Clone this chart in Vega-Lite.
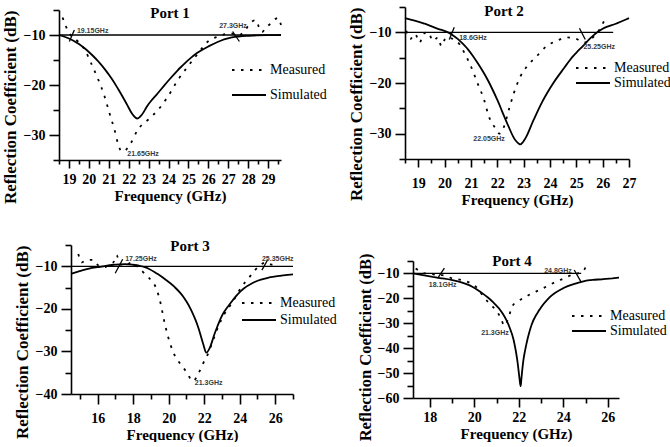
{
  "$schema": "https://vega.github.io/schema/vega-lite/v6.json",
  "background": "white",
  "padding": {"left": 1, "top": 4, "right": 0, "bottom": 0},
  "columns": 2,
  "bounds": "flush",
  "spacing": {"row": 85, "column": 112},
  "resolve": {
    "scale": {"x": "independent", "y": "independent", "strokeDash": "independent"},
    "axis": {"x": "independent", "y": "independent"},
    "legend": {"strokeDash": "independent"}
  },
  "datasets": {
    "curves": [
      {"port": 1, "s": "Simulated", "f": 18.5, "db": -10.0},
      {"port": 1, "s": "Simulated", "f": 19.0, "db": -10.7},
      {"port": 1, "s": "Simulated", "f": 19.5, "db": -11.8},
      {"port": 1, "s": "Simulated", "f": 20.0, "db": -13.4},
      {"port": 1, "s": "Simulated", "f": 20.5, "db": -15.4},
      {"port": 1, "s": "Simulated", "f": 21.0, "db": -17.9},
      {"port": 1, "s": "Simulated", "f": 21.5, "db": -21.0},
      {"port": 1, "s": "Simulated", "f": 21.9, "db": -23.8},
      {"port": 1, "s": "Simulated", "f": 22.2, "db": -25.9},
      {"port": 1, "s": "Simulated", "f": 22.43, "db": -26.7},
      {"port": 1, "s": "Simulated", "f": 22.65, "db": -26.0},
      {"port": 1, "s": "Simulated", "f": 22.95, "db": -24.1},
      {"port": 1, "s": "Simulated", "f": 23.45, "db": -21.7},
      {"port": 1, "s": "Simulated", "f": 24.0, "db": -19.1},
      {"port": 1, "s": "Simulated", "f": 24.6, "db": -16.5},
      {"port": 1, "s": "Simulated", "f": 25.3, "db": -14.0},
      {"port": 1, "s": "Simulated", "f": 26.0, "db": -12.3},
      {"port": 1, "s": "Simulated", "f": 26.65, "db": -11.1},
      {"port": 1, "s": "Simulated", "f": 27.5, "db": -10.3},
      {"port": 1, "s": "Simulated", "f": 28.3, "db": -10.1},
      {"port": 1, "s": "Simulated", "f": 29.65, "db": -10.0},
      {"port": 1, "s": "Measured", "f": 18.68, "db": -6.5},
      {"port": 1, "s": "Measured", "f": 18.85, "db": -8.3},
      {"port": 1, "s": "Measured", "f": 19.0, "db": -9.6},
      {"port": 1, "s": "Measured", "f": 19.2, "db": -10.4},
      {"port": 1, "s": "Measured", "f": 19.45, "db": -11.3},
      {"port": 1, "s": "Measured", "f": 19.8, "db": -13.0},
      {"port": 1, "s": "Measured", "f": 20.12, "db": -15.7},
      {"port": 1, "s": "Measured", "f": 20.45, "db": -18.7},
      {"port": 1, "s": "Measured", "f": 20.79, "db": -22.3},
      {"port": 1, "s": "Measured", "f": 21.04, "db": -25.7},
      {"port": 1, "s": "Measured", "f": 21.29, "db": -29.0},
      {"port": 1, "s": "Measured", "f": 21.46, "db": -31.7},
      {"port": 1, "s": "Measured", "f": 21.65, "db": -33.3},
      {"port": 1, "s": "Measured", "f": 21.85, "db": -33.0},
      {"port": 1, "s": "Measured", "f": 22.1, "db": -31.7},
      {"port": 1, "s": "Measured", "f": 22.45, "db": -29.0},
      {"port": 1, "s": "Measured", "f": 22.96, "db": -27.0},
      {"port": 1, "s": "Measured", "f": 23.47, "db": -25.0},
      {"port": 1, "s": "Measured", "f": 23.97, "db": -22.3},
      {"port": 1, "s": "Measured", "f": 24.47, "db": -19.0},
      {"port": 1, "s": "Measured", "f": 24.97, "db": -16.3},
      {"port": 1, "s": "Measured", "f": 25.48, "db": -13.7},
      {"port": 1, "s": "Measured", "f": 25.98, "db": -11.3},
      {"port": 1, "s": "Measured", "f": 26.48, "db": -10.3},
      {"port": 1, "s": "Measured", "f": 27.15, "db": -9.7},
      {"port": 1, "s": "Measured", "f": 27.5, "db": -10.1},
      {"port": 1, "s": "Measured", "f": 27.8, "db": -9.3},
      {"port": 1, "s": "Measured", "f": 28.0, "db": -8.2},
      {"port": 1, "s": "Measured", "f": 28.2, "db": -7.3},
      {"port": 1, "s": "Measured", "f": 28.4, "db": -7.0},
      {"port": 1, "s": "Measured", "f": 28.55, "db": -8.5},
      {"port": 1, "s": "Measured", "f": 28.7, "db": -9.4},
      {"port": 1, "s": "Measured", "f": 28.9, "db": -8.5},
      {"port": 1, "s": "Measured", "f": 29.1, "db": -7.8},
      {"port": 1, "s": "Measured", "f": 29.3, "db": -7.0},
      {"port": 1, "s": "Measured", "f": 29.5, "db": -6.6},
      {"port": 1, "s": "Measured", "f": 29.65, "db": -8.0},

      {"port": 2, "s": "Simulated", "f": 18.5, "db": -7.2},
      {"port": 2, "s": "Simulated", "f": 19.25, "db": -8.3},
      {"port": 2, "s": "Simulated", "f": 19.75, "db": -9.3},
      {"port": 2, "s": "Simulated", "f": 20.13, "db": -10.0},
      {"port": 2, "s": "Simulated", "f": 20.5, "db": -11.3},
      {"port": 2, "s": "Simulated", "f": 20.88, "db": -13.3},
      {"port": 2, "s": "Simulated", "f": 21.25, "db": -16.0},
      {"port": 2, "s": "Simulated", "f": 21.63, "db": -19.3},
      {"port": 2, "s": "Simulated", "f": 22.0, "db": -23.3},
      {"port": 2, "s": "Simulated", "f": 22.38, "db": -28.0},
      {"port": 2, "s": "Simulated", "f": 22.69, "db": -31.3},
      {"port": 2, "s": "Simulated", "f": 22.88, "db": -32.1},
      {"port": 2, "s": "Simulated", "f": 23.06, "db": -31.0},
      {"port": 2, "s": "Simulated", "f": 23.38, "db": -27.3},
      {"port": 2, "s": "Simulated", "f": 23.75, "db": -23.3},
      {"port": 2, "s": "Simulated", "f": 24.13, "db": -20.0},
      {"port": 2, "s": "Simulated", "f": 24.5, "db": -17.3},
      {"port": 2, "s": "Simulated", "f": 24.88, "db": -14.7},
      {"port": 2, "s": "Simulated", "f": 25.25, "db": -12.7},
      {"port": 2, "s": "Simulated", "f": 25.63, "db": -10.7},
      {"port": 2, "s": "Simulated", "f": 26.0, "db": -9.3},
      {"port": 2, "s": "Simulated", "f": 26.5, "db": -8.3},
      {"port": 2, "s": "Simulated", "f": 27.0, "db": -7.2},
      {"port": 2, "s": "Measured", "f": 18.55, "db": -9.7},
      {"port": 2, "s": "Measured", "f": 18.7, "db": -11.3},
      {"port": 2, "s": "Measured", "f": 18.88, "db": -10.3},
      {"port": 2, "s": "Measured", "f": 19.06, "db": -12.0},
      {"port": 2, "s": "Measured", "f": 19.19, "db": -10.3},
      {"port": 2, "s": "Measured", "f": 19.38, "db": -10.0},
      {"port": 2, "s": "Measured", "f": 19.56, "db": -11.7},
      {"port": 2, "s": "Measured", "f": 19.75, "db": -11.0},
      {"port": 2, "s": "Measured", "f": 19.88, "db": -12.7},
      {"port": 2, "s": "Measured", "f": 20.06, "db": -11.0},
      {"port": 2, "s": "Measured", "f": 20.31, "db": -11.3},
      {"port": 2, "s": "Measured", "f": 20.56, "db": -12.3},
      {"port": 2, "s": "Measured", "f": 20.75, "db": -14.0},
      {"port": 2, "s": "Measured", "f": 21.0, "db": -16.7},
      {"port": 2, "s": "Measured", "f": 21.25, "db": -20.0},
      {"port": 2, "s": "Measured", "f": 21.5, "db": -23.3},
      {"port": 2, "s": "Measured", "f": 21.69, "db": -26.7},
      {"port": 2, "s": "Measured", "f": 21.94, "db": -29.0},
      {"port": 2, "s": "Measured", "f": 22.08, "db": -30.0},
      {"port": 2, "s": "Measured", "f": 22.25, "db": -28.7},
      {"port": 2, "s": "Measured", "f": 22.44, "db": -25.3},
      {"port": 2, "s": "Measured", "f": 22.63, "db": -22.0},
      {"port": 2, "s": "Measured", "f": 22.88, "db": -18.7},
      {"port": 2, "s": "Measured", "f": 23.13, "db": -16.7},
      {"port": 2, "s": "Measured", "f": 23.5, "db": -14.7},
      {"port": 2, "s": "Measured", "f": 23.88, "db": -12.7},
      {"port": 2, "s": "Measured", "f": 24.25, "db": -11.7},
      {"port": 2, "s": "Measured", "f": 24.63, "db": -11.0},
      {"port": 2, "s": "Measured", "f": 25.0, "db": -11.3},
      {"port": 2, "s": "Measured", "f": 25.31, "db": -12.0},
      {"port": 2, "s": "Measured", "f": 25.56, "db": -11.3},
      {"port": 2, "s": "Measured", "f": 25.81, "db": -10.0},
      {"port": 2, "s": "Measured", "f": 26.06, "db": -7.7},

      {"port": 3, "s": "Simulated", "f": 14.5, "db": -11.8},
      {"port": 3, "s": "Simulated", "f": 15.1, "db": -11.0},
      {"port": 3, "s": "Simulated", "f": 15.66, "db": -10.4},
      {"port": 3, "s": "Simulated", "f": 16.22, "db": -10.1},
      {"port": 3, "s": "Simulated", "f": 16.79, "db": -9.7},
      {"port": 3, "s": "Simulated", "f": 17.54, "db": -9.5},
      {"port": 3, "s": "Simulated", "f": 18.1, "db": -9.7},
      {"port": 3, "s": "Simulated", "f": 18.66, "db": -10.2},
      {"port": 3, "s": "Simulated", "f": 19.22, "db": -11.4},
      {"port": 3, "s": "Simulated", "f": 19.78, "db": -13.0},
      {"port": 3, "s": "Simulated", "f": 20.34, "db": -14.9},
      {"port": 3, "s": "Simulated", "f": 20.9, "db": -17.6},
      {"port": 3, "s": "Simulated", "f": 21.28, "db": -20.4},
      {"port": 3, "s": "Simulated", "f": 21.66, "db": -24.3},
      {"port": 3, "s": "Simulated", "f": 21.94, "db": -28.2},
      {"port": 3, "s": "Simulated", "f": 22.12, "db": -30.3},
      {"port": 3, "s": "Simulated", "f": 22.3, "db": -29.3},
      {"port": 3, "s": "Simulated", "f": 22.59, "db": -25.8},
      {"port": 3, "s": "Simulated", "f": 22.97, "db": -21.9},
      {"port": 3, "s": "Simulated", "f": 23.53, "db": -18.4},
      {"port": 3, "s": "Simulated", "f": 24.09, "db": -15.7},
      {"port": 3, "s": "Simulated", "f": 24.84, "db": -13.7},
      {"port": 3, "s": "Simulated", "f": 25.59, "db": -12.7},
      {"port": 3, "s": "Simulated", "f": 26.34, "db": -12.2},
      {"port": 3, "s": "Simulated", "f": 27.0, "db": -11.9},
      {"port": 3, "s": "Measured", "f": 14.91, "db": -7.1},
      {"port": 3, "s": "Measured", "f": 15.1, "db": -9.1},
      {"port": 3, "s": "Measured", "f": 15.3, "db": -8.7},
      {"port": 3, "s": "Measured", "f": 15.48, "db": -8.5},
      {"port": 3, "s": "Measured", "f": 15.76, "db": -8.5},
      {"port": 3, "s": "Measured", "f": 16.04, "db": -9.8},
      {"port": 3, "s": "Measured", "f": 16.41, "db": -10.2},
      {"port": 3, "s": "Measured", "f": 16.69, "db": -9.3},
      {"port": 3, "s": "Measured", "f": 16.88, "db": -9.1},
      {"port": 3, "s": "Measured", "f": 17.07, "db": -7.4},
      {"port": 3, "s": "Measured", "f": 17.25, "db": -9.5},
      {"port": 3, "s": "Measured", "f": 17.54, "db": -9.8},
      {"port": 3, "s": "Measured", "f": 17.91, "db": -9.1},
      {"port": 3, "s": "Measured", "f": 18.28, "db": -10.2},
      {"port": 3, "s": "Measured", "f": 18.66, "db": -11.8},
      {"port": 3, "s": "Measured", "f": 19.03, "db": -13.4},
      {"port": 3, "s": "Measured", "f": 19.31, "db": -15.3},
      {"port": 3, "s": "Measured", "f": 19.55, "db": -18.8},
      {"port": 3, "s": "Measured", "f": 19.74, "db": -22.7},
      {"port": 3, "s": "Measured", "f": 19.97, "db": -26.6},
      {"port": 3, "s": "Measured", "f": 20.25, "db": -30.1},
      {"port": 3, "s": "Measured", "f": 20.63, "db": -32.8},
      {"port": 3, "s": "Measured", "f": 21.0, "db": -34.8},
      {"port": 3, "s": "Measured", "f": 21.37, "db": -37.0},
      {"port": 3, "s": "Measured", "f": 21.66, "db": -35.3},
      {"port": 3, "s": "Measured", "f": 21.94, "db": -32.8},
      {"port": 3, "s": "Measured", "f": 22.22, "db": -30.5},
      {"port": 3, "s": "Measured", "f": 22.5, "db": -27.4},
      {"port": 3, "s": "Measured", "f": 22.78, "db": -24.3},
      {"port": 3, "s": "Measured", "f": 23.15, "db": -21.1},
      {"port": 3, "s": "Measured", "f": 23.53, "db": -18.8},
      {"port": 3, "s": "Measured", "f": 23.81, "db": -16.9},
      {"port": 3, "s": "Measured", "f": 24.09, "db": -14.9},
      {"port": 3, "s": "Measured", "f": 24.46, "db": -13.0},
      {"port": 3, "s": "Measured", "f": 24.84, "db": -11.0},
      {"port": 3, "s": "Measured", "f": 25.12, "db": -9.8},
      {"port": 3, "s": "Measured", "f": 25.49, "db": -9.1},
      {"port": 3, "s": "Measured", "f": 25.8, "db": -9.6},
      {"port": 3, "s": "Measured", "f": 26.15, "db": -9.1},

      {"port": 4, "s": "Simulated", "f": 17.25, "db": -10.0},
      {"port": 4, "s": "Simulated", "f": 18.27, "db": -11.6},
      {"port": 4, "s": "Simulated", "f": 19.02, "db": -12.7},
      {"port": 4, "s": "Simulated", "f": 19.77, "db": -14.7},
      {"port": 4, "s": "Simulated", "f": 20.37, "db": -18.0},
      {"port": 4, "s": "Simulated", "f": 20.82, "db": -21.3},
      {"port": 4, "s": "Simulated", "f": 21.27, "db": -26.0},
      {"port": 4, "s": "Simulated", "f": 21.57, "db": -31.3},
      {"port": 4, "s": "Simulated", "f": 21.8, "db": -38.0},
      {"port": 4, "s": "Simulated", "f": 21.95, "db": -46.0},
      {"port": 4, "s": "Simulated", "f": 22.03, "db": -52.0},
      {"port": 4, "s": "Simulated", "f": 22.08, "db": -55.3},
      {"port": 4, "s": "Simulated", "f": 22.12, "db": -52.0},
      {"port": 4, "s": "Simulated", "f": 22.19, "db": -46.0},
      {"port": 4, "s": "Simulated", "f": 22.32, "db": -39.3},
      {"port": 4, "s": "Simulated", "f": 22.55, "db": -31.3},
      {"port": 4, "s": "Simulated", "f": 22.92, "db": -24.7},
      {"port": 4, "s": "Simulated", "f": 23.38, "db": -19.6},
      {"port": 4, "s": "Simulated", "f": 23.98, "db": -16.0},
      {"port": 4, "s": "Simulated", "f": 24.58, "db": -14.0},
      {"port": 4, "s": "Simulated", "f": 25.18, "db": -12.7},
      {"port": 4, "s": "Simulated", "f": 25.78, "db": -12.3},
      {"port": 4, "s": "Simulated", "f": 26.5, "db": -11.7},
      {"port": 4, "s": "Measured", "f": 17.37, "db": -8.0},
      {"port": 4, "s": "Measured", "f": 17.6, "db": -9.3},
      {"port": 4, "s": "Measured", "f": 17.82, "db": -10.0},
      {"port": 4, "s": "Measured", "f": 18.05, "db": -9.9},
      {"port": 4, "s": "Measured", "f": 18.27, "db": -10.7},
      {"port": 4, "s": "Measured", "f": 18.57, "db": -10.7},
      {"port": 4, "s": "Measured", "f": 19.02, "db": -12.0},
      {"port": 4, "s": "Measured", "f": 19.47, "db": -12.7},
      {"port": 4, "s": "Measured", "f": 19.85, "db": -14.0},
      {"port": 4, "s": "Measured", "f": 20.15, "db": -16.0},
      {"port": 4, "s": "Measured", "f": 20.37, "db": -18.7},
      {"port": 4, "s": "Measured", "f": 20.67, "db": -22.0},
      {"port": 4, "s": "Measured", "f": 20.97, "db": -24.7},
      {"port": 4, "s": "Measured", "f": 21.2, "db": -28.0},
      {"port": 4, "s": "Measured", "f": 21.35, "db": -31.0},
      {"port": 4, "s": "Measured", "f": 21.5, "db": -28.7},
      {"port": 4, "s": "Measured", "f": 21.72, "db": -23.0},
      {"port": 4, "s": "Measured", "f": 21.95, "db": -21.3},
      {"port": 4, "s": "Measured", "f": 22.32, "db": -19.3},
      {"port": 4, "s": "Measured", "f": 22.77, "db": -17.3},
      {"port": 4, "s": "Measured", "f": 23.23, "db": -15.3},
      {"port": 4, "s": "Measured", "f": 23.68, "db": -13.3},
      {"port": 4, "s": "Measured", "f": 24.13, "db": -11.6},
      {"port": 4, "s": "Measured", "f": 24.43, "db": -10.3},
      {"port": 4, "s": "Measured", "f": 24.65, "db": -10.0},
      {"port": 4, "s": "Measured", "f": 24.88, "db": -9.3},
      {"port": 4, "s": "Measured", "f": 25.03, "db": -6.7}
    ],
    "crossings": [
      {"port": 1, "f": 19.02, "db": -11.3, "f2": 19.27, "db2": -9.0},
      {"port": 1, "f": 27.22, "db": -9.3, "f2": 27.56, "db2": -11.3},
      {"port": 2, "f": 20.18, "db": -11.4, "f2": 20.37, "db2": -9.0},
      {"port": 2, "f": 25.12, "db": -9.2, "f2": 25.34, "db2": -11.4},
      {"port": 3, "f": 16.99, "db": -11.65, "f2": 17.41, "db2": -8.36},
      {"port": 3, "f": 25.25, "db": -10.9, "f2": 25.58, "db2": -8.4},
      {"port": 4, "f": 18.39, "db": -11.5, "f2": 18.66, "db2": -7.9},
      {"port": 4, "f": 24.49, "db": -8.6, "f2": 24.79, "db2": -13.3}
    ],
    "notes": [
      {"port": 1, "f": 20.19, "db": -9.1, "label": "19.15GHz"},
      {"port": 1, "f": 27.24, "db": -8.2, "label": "27.3GHz"},
      {"port": 1, "f": 22.72, "db": -33.8, "label": "21.65GHz"},
      {"port": 2, "f": 21.08, "db": -11.2, "label": "18.6GHz"},
      {"port": 2, "f": 25.87, "db": -12.95, "label": "25.25GHz"},
      {"port": 2, "f": 21.69, "db": -31.1, "label": "22.05GHz"},
      {"port": 3, "f": 18.44, "db": -8.3, "label": "17.25GHz"},
      {"port": 3, "f": 26.14, "db": -8.4, "label": "25.35GHz"},
      {"port": 3, "f": 22.25, "db": -37.5, "label": "21.3GHz"},
      {"port": 4, "f": 18.58, "db": -14.6, "label": "18.1GHz"},
      {"port": 4, "f": 23.76, "db": -8.9, "label": "24.8GHz"},
      {"port": 4, "f": 20.93, "db": -33.8, "label": "21.3GHz"}
    ]
  },
  "concat": [
    {
      "width": 222,
      "height": 153,
      "title": {"text": "Port 1", "offset": -14, "dx": 0},
      "resolve": {"axis": {"x": "independent", "y": "independent"}},
      "layer": [
        {
          "data": {"name": "curves"},
          "transform": [{"filter": "datum.port === 1"}],
          "mark": {"type": "line", "color": "black", "strokeWidth": 1.8, "interpolate": "monotone"},
          "encoding": {
            "x": {
              "field": "f", "type": "quantitative",
              "scale": {"domain": [18.5, 29.65], "range": [0, 222], "nice": false, "zero": false},
              "axis": {"orient": "bottom", "title": "Frequency (GHz)", "values": [19, 20, 21, 22, 23, 24, 25, 26, 27, 28, 29], "format": "d", "tickSize": 8, "labelPadding": 4}
            },
            "y": {
              "field": "db", "type": "quantitative",
              "scale": {"domain": [-35, -5], "range": [153, 3], "nice": false, "zero": false},
              "axis": {"orient": "left", "title": "Reflection Coefficient (dB)", "values": [-30, -20, -10], "format": "d", "tickSize": 10}
            },
            "strokeDash": {
              "field": "s", "type": "nominal",
              "scale": {"domain": ["Measured", "Simulated"], "range": [[2.5, 6.5], [10, 0]]},
              "legend": {"orient": "none", "title": null, "legendX": 172, "legendY": 56, "rowPadding": 11}
            }
          }
        },
        {
          "data": {"values": [{"level": -10}]},
          "mark": {"type": "rule", "color": "black", "strokeWidth": 1.3},
          "encoding": {
            "x": {"datum": 18.5, "axis": null},
            "x2": {"datum": 29.65},
            "y": {"field": "level", "type": "quantitative", "axis": {"orient": "left", "title": null, "values": [-35, -25, -15, -5], "tickSize": 6, "labels": false, "domain": false}}
          }
        },
        {
          "data": {"name": "crossings"},
          "transform": [{"filter": "datum.port === 1"}],
          "mark": {"type": "rule", "color": "black", "strokeWidth": 1.3},
          "encoding": {
            "x": {"field": "f", "type": "quantitative", "axis": {"orient": "bottom", "title": null, "values": [18.5, 19.5, 20.5, 21.5, 22.5, 23.5, 24.5, 25.5, 26.5, 27.5, 28.5, 29.5], "tickSize": 4, "labels": false, "domain": false}},
            "y": {"field": "db", "type": "quantitative", "axis": null},
            "x2": {"field": "f2"}, "y2": {"field": "db2"}
          }
        },
        {
          "data": {"name": "notes"},
          "transform": [{"filter": "datum.port === 1"}],
          "mark": {"type": "text", "font": "Liberation Sans", "fontSize": 7, "fontWeight": "bold", "color": "#3a3a3a"},
          "encoding": {"x": {"field": "f", "type": "quantitative", "axis": null}, "y": {"field": "db", "type": "quantitative", "axis": null}, "text": {"field": "label"}}
        }
      ]
    },
    {
      "width": 224,
      "height": 152,
      "title": {"text": "Port 2", "offset": -13, "dx": -13},
      "resolve": {"axis": {"x": "independent", "y": "independent"}},
      "layer": [
        {
          "data": {"name": "curves"},
          "transform": [{"filter": "datum.port === 2"}],
          "mark": {"type": "line", "color": "black", "strokeWidth": 1.8, "interpolate": "monotone"},
          "encoding": {
            "x": {
              "field": "f", "type": "quantitative",
              "scale": {"domain": [18.5, 27], "nice": false, "zero": false},
              "axis": {"orient": "bottom", "title": "Frequency (GHz)", "values": [19, 20, 21, 22, 23, 24, 25, 26, 27], "format": "d", "tickSize": 8, "labelPadding": 9}
            },
            "y": {
              "field": "db", "type": "quantitative",
              "scale": {"domain": [-35, -5], "nice": false, "zero": false},
              "axis": {"orient": "left", "title": "Reflection Coefficient (dB)", "values": [-30, -20, -10], "format": "d", "tickSize": 10}
            },
            "strokeDash": {
              "field": "s", "type": "nominal",
              "scale": {"domain": ["Measured", "Simulated"], "range": [[2.5, 6.5], [10, 0]]},
              "legend": {"orient": "none", "title": null, "legendX": 170, "legendY": 54, "rowPadding": 1}
            }
          }
        },
        {
          "data": {"values": [{"level": -10}]},
          "mark": {"type": "rule", "color": "black", "strokeWidth": 1.3},
          "encoding": {
            "x": {"datum": 18.5, "axis": null},
            "x2": {"datum": 26.4},
            "y": {"field": "level", "type": "quantitative", "axis": {"orient": "left", "title": null, "values": [-35, -25, -15, -5], "tickSize": 6, "labels": false, "domain": false}}
          }
        },
        {
          "data": {"name": "crossings"},
          "transform": [{"filter": "datum.port === 2"}],
          "mark": {"type": "rule", "color": "black", "strokeWidth": 1.3},
          "encoding": {
            "x": {"field": "f", "type": "quantitative", "axis": {"orient": "bottom", "title": null, "values": [18.5, 19.5, 20.5, 21.5, 22.5, 23.5, 24.5, 25.5, 26.5], "tickSize": 4, "labels": false, "domain": false}},
            "y": {"field": "db", "type": "quantitative", "axis": null},
            "x2": {"field": "f2"}, "y2": {"field": "db2"}
          }
        },
        {
          "data": {"name": "notes"},
          "transform": [{"filter": "datum.port === 2"}],
          "mark": {"type": "text", "font": "Liberation Sans", "fontSize": 7, "fontWeight": "bold", "color": "#3a3a3a"},
          "encoding": {"x": {"field": "f", "type": "quantitative", "axis": null}, "y": {"field": "db", "type": "quantitative", "axis": null}, "text": {"field": "label"}}
        }
      ]
    },
    {
      "width": 234,
      "height": 149,
      "title": {"text": "Port 3", "offset": -10, "dx": 14},
      "resolve": {"axis": {"x": "independent", "y": "independent"}},
      "layer": [
        {
          "data": {"name": "curves"},
          "transform": [{"filter": "datum.port === 3"}],
          "mark": {"type": "line", "color": "black", "strokeWidth": 1.8, "interpolate": "monotone"},
          "encoding": {
            "x": {
              "field": "f", "type": "quantitative",
              "scale": {"domain": [14.5, 27], "range": [12, 234], "nice": false, "zero": false},
              "axis": {"orient": "bottom", "title": "Frequency (GHz)", "values": [16, 18, 20, 22, 24, 26], "format": "d", "tickSize": 10, "labelPadding": 7}
            },
            "y": {
              "field": "db", "type": "quantitative",
              "scale": {"domain": [-40, -5], "nice": false, "zero": false},
              "axis": {"orient": "left", "title": "Reflection Coefficient (dB)", "offset": -12, "values": [-40, -30, -20, -10], "format": "d", "tickSize": 10}
            },
            "strokeDash": {
              "field": "s", "type": "nominal",
              "scale": {"domain": ["Measured", "Simulated"], "range": [[2.5, 6.5], [10, 0]]},
              "legend": {"orient": "none", "title": null, "legendX": 182, "legendY": 51, "rowPadding": 3}
            }
          }
        },
        {
          "data": {"values": [{"level": -10}]},
          "mark": {"type": "rule", "color": "black", "strokeWidth": 1.3},
          "encoding": {
            "x": {"datum": 14.5, "axis": null},
            "x2": {"datum": 27},
            "y": {"field": "level", "type": "quantitative", "axis": {"orient": "left", "offset": -12, "title": null, "values": [-35, -25, -15, -5], "tickSize": 6, "labels": false, "domain": false}}
          }
        },
        {
          "data": {"name": "crossings"},
          "transform": [{"filter": "datum.port === 3"}],
          "mark": {"type": "rule", "color": "black", "strokeWidth": 1.3},
          "encoding": {
            "x": {"field": "f", "type": "quantitative", "axis": {"orient": "bottom", "title": null, "values": [15, 17, 19, 21, 23, 25, 27], "tickSize": 5, "labels": false, "domain": false}},
            "y": {"field": "db", "type": "quantitative", "axis": null},
            "x2": {"field": "f2"}, "y2": {"field": "db2"}
          }
        },
        {
          "data": {"name": "notes"},
          "transform": [{"filter": "datum.port === 3"}],
          "mark": {"type": "text", "font": "Liberation Sans", "fontSize": 7, "fontWeight": "bold", "color": "#3a3a3a"},
          "encoding": {"x": {"field": "f", "type": "quantitative", "axis": null}, "y": {"field": "db", "type": "quantitative", "axis": null}, "text": {"field": "label"}}
        }
      ]
    },
    {
      "width": 214,
      "height": 153,
      "title": {"text": "Port 4", "offset": -24, "dx": 0},
      "resolve": {"axis": {"x": "independent", "y": "independent"}},
      "layer": [
        {
          "data": {"name": "curves"},
          "transform": [{"filter": "datum.port === 4"}],
          "mark": {"type": "line", "color": "black", "strokeWidth": 1.8, "interpolate": "monotone"},
          "encoding": {
            "x": {
              "field": "f", "type": "quantitative",
              "scale": {"domain": [17.25, 26.5], "range": [8, 214], "nice": false, "zero": false},
              "axis": {"orient": "bottom", "title": "Frequency (GHz)", "values": [18, 20, 22, 24, 26], "format": "d", "tickSize": 9, "labelPadding": 3}
            },
            "y": {
              "field": "db", "type": "quantitative",
              "scale": {"domain": [-60, -5], "range": [153, 16], "nice": false, "zero": false},
              "axis": {"orient": "left", "title": "Reflection Coefficient (dB)", "titleY": 8, "titleFontSize": 16.5, "offset": -8, "values": [-60, -50, -40, -30, -20, -10], "format": "d", "tickSize": 10}
            },
            "strokeDash": {
              "field": "s", "type": "nominal",
              "scale": {"domain": ["Measured", "Simulated"], "range": [[2.5, 6.5], [10, 0]]},
              "legend": {"orient": "none", "title": null, "legendX": 166, "legendY": 64, "rowPadding": 1}
            }
          }
        },
        {
          "data": {"values": [{"level": -10}]},
          "mark": {"type": "rule", "color": "black", "strokeWidth": 1.3},
          "encoding": {
            "x": {"datum": 17.25, "axis": null},
            "x2": {"datum": 24.8},
            "y": {"field": "level", "type": "quantitative", "axis": {"orient": "left", "offset": -8, "title": null, "values": [-55, -45, -35, -25, -15, -5], "tickSize": 6, "labels": false, "domain": false}}
          }
        },
        {
          "data": {"name": "crossings"},
          "transform": [{"filter": "datum.port === 4"}],
          "mark": {"type": "rule", "color": "black", "strokeWidth": 1.3},
          "encoding": {
            "x": {"field": "f", "type": "quantitative", "axis": {"orient": "bottom", "title": null, "values": [19, 21, 23, 25], "tickSize": 5, "labels": false, "domain": false}},
            "y": {"field": "db", "type": "quantitative", "axis": null},
            "x2": {"field": "f2"}, "y2": {"field": "db2"}
          }
        },
        {
          "data": {"name": "notes"},
          "transform": [{"filter": "datum.port === 4"}],
          "mark": {"type": "text", "font": "Liberation Sans", "fontSize": 7, "fontWeight": "bold", "color": "#3a3a3a"},
          "encoding": {"x": {"field": "f", "type": "quantitative", "axis": null}, "y": {"field": "db", "type": "quantitative", "axis": null}, "text": {"field": "label"}}
        }
      ]
    }
  ],
  "config": {
    "view": {"stroke": null},
    "font": "Liberation Serif",
    "title": {"font": "Liberation Serif", "fontSize": 15, "fontWeight": "bold", "color": "black", "anchor": "middle", "frame": "group", "baseline": "alphabetic"},
    "axis": {
      "grid": false,
      "domainColor": "black", "domainWidth": 1.6,
      "tickColor": "black", "tickWidth": 1.6,
      "labelFont": "Liberation Serif", "labelFontWeight": "bold", "labelFontSize": 14, "labelColor": "black",
      "titleFont": "Liberation Serif", "titleFontWeight": "bold", "titleColor": "black",
      "labelOverlap": false, "labelFlush": false, "labelBound": false
    },
    "axisX": {"titlePadding": 2, "titleFontSize": 15},
    "axisY": {"titlePadding": 4, "labelPadding": 4, "titleFontSize": 17, "titleAnchor": "end"},
    "legend": {
      "symbolType": "stroke", "symbolSize": 1156, "symbolStrokeWidth": 1.8, "symbolStrokeColor": "black",
      "clipHeight": 14,
      "labelFont": "Liberation Serif", "labelFontSize": 14, "labelColor": "black", "labelOffset": 3, "padding": 0
    }
  }
}
